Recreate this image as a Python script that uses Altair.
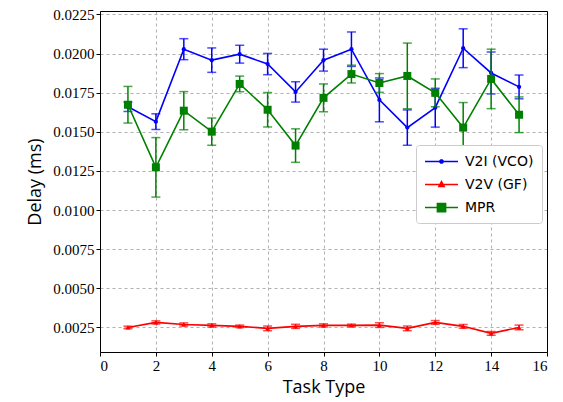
import altair as alt
import pandas as pd

tasks = list(range(1, 16))
series = ["V2I (VCO)", "V2V (GF)", "MPR"]
colors = ["#0000ff", "#ff0000", "#008000"]

v2i_mean = [0.01660, 0.01565, 0.02028, 0.01958, 0.01996, 0.01933, 0.01755, 0.01958,
            0.02028, 0.01704, 0.01527, 0.01654, 0.02034, 0.01876, 0.01787]
v2i_err = [0.00030, 0.00050, 0.00067, 0.00078, 0.00057, 0.00068, 0.00065, 0.00070,
           0.00110, 0.00140, 0.00113, 0.00124, 0.00124, 0.00134, 0.00076]
v2v_mean = [0.00250, 0.00282, 0.00269, 0.00263, 0.00257, 0.00244, 0.00257, 0.00263,
            0.00263, 0.00265, 0.00244, 0.00282, 0.00257, 0.00212, 0.00250]
v2v_err = [0.00008, 0.00010, 0.00010, 0.00010, 0.00008, 0.00015, 0.00013, 0.00010,
           0.00008, 0.00015, 0.00015, 0.00012, 0.00012, 0.00012, 0.00015]
mpr_mean = [0.01673, 0.01273, 0.01635, 0.01501, 0.01806, 0.01641, 0.01412, 0.01717,
            0.01869, 0.01812, 0.01857, 0.01749, 0.01527, 0.01838, 0.01609]
mpr_err = [0.00117, 0.00190, 0.00122, 0.00087, 0.00050, 0.00110, 0.00107, 0.00089,
           0.00057, 0.00060, 0.00210, 0.00089, 0.00160, 0.00190, 0.00114]

y_ticks = [0.0025, 0.0050, 0.0075, 0.0100, 0.0125, 0.0150, 0.0175, 0.0200, 0.0225]
x_ticks = [0, 2, 4, 6, 8, 10, 12, 14, 16]

rows = []
for name, m, e in [(series[0], v2i_mean, v2i_err), (series[1], v2v_mean, v2v_err),
                   (series[2], mpr_mean, mpr_err)]:
    for t, mv, ev in zip(tasks, m, e):
        rows.append({"Series": name, "Task": t, "Delay": mv, "lo": mv - ev, "hi": mv + ev})
df = pd.DataFrame(rows)

xs = alt.Scale(domain=[0, 16], nice=False, zero=False)
ys = alt.Scale(domain=[0.00093, 0.02272], nice=False, zero=False)

X = alt.X("Task:Q", scale=xs, title="Task Type",
          axis=alt.Axis(values=x_ticks, format="d"))
Y = alt.Y("Delay:Q", scale=ys, title="Delay (ms)",
          axis=alt.Axis(values=y_ticks, format=".4f"))

base = alt.Chart(df)

layers = []
shapes = ["circle", "triangle-up", "square"]
sizes = [18, 24, 64]
for name, col, shp, sz in zip(series, colors, shapes, sizes):
    sub = base.transform_filter(alt.datum.Series == name)
    rule = sub.mark_rule(strokeWidth=1.5, color=col).encode(
        x=X, y=alt.Y("lo:Q", scale=ys), y2="hi:Q")
    cap_lo = sub.mark_tick(orient="horizontal", size=9, thickness=1.5, color=col).encode(
        x=X, y=alt.Y("lo:Q", scale=ys))
    cap_hi = sub.mark_tick(orient="horizontal", size=9, thickness=1.5, color=col).encode(
        x=X, y=alt.Y("hi:Q", scale=ys))
    line = sub.mark_line(color=col, strokeWidth=1.6).encode(x=X, y=Y, order="Task:Q")
    pts = sub.mark_point(shape=shp, filled=True, size=sz, color=col, opacity=1).encode(x=X, y=Y)
    layers += [rule, cap_lo, cap_hi, line, pts]

# legend layer: custom line+marker symbols; its points sit outside the clipped view
leg_paths = [
    "M -1 0 L 3.4 0 M 1.0 -0.1 L 1.1 -0.2 L 1.3 -0.2 L 1.4 -0.1 L 1.4 0.1 L 1.3 0.2 L 1.1 0.2 L 1.0 0.1 Z",
    "M -1 0 L 3.4 0 M 1.2 -0.4 L 1.55 0.25 L 0.85 0.25 Z",
    "M -1 0 L 3.4 0 M 0.65 -0.55 L 1.75 -0.55 L 1.75 0.55 L 0.65 0.55 Z",
]
leg = alt.Legend(title=None, orient="none", legendX=316, legendY=134,
                 symbolSize=225, symbolStrokeWidth=1.5, symbolOpacity=1,
                 labelFont="DejaVu Sans", labelFontSize=14, labelColor="#000000",
                 labelFontWeight="normal",
                 labelOffset=24, rowPadding=7, padding=8,
                 strokeColor="#cccccc", fillColor="#ffffff", cornerRadius=3)
legend_layer = base.transform_filter(alt.datum.Task == 1).transform_calculate(
    lx="datum.Task - 30", Label="datum.Series").mark_point(clip=True, filled=True, opacity=1).encode(
    x=alt.X("lx:Q", scale=xs), y=Y,
    shape=alt.Shape("Label:N", scale=alt.Scale(domain=series, range=leg_paths), legend=leg),
    fill=alt.Fill("Label:N", scale=alt.Scale(domain=series, range=colors), legend=leg),
    stroke=alt.Stroke("Label:N", scale=alt.Scale(domain=series, range=colors), legend=leg),
)

main = alt.layer(*layers, legend_layer)

# top and right spines of the frame
frame = base.mark_point(opacity=0).encode(
    x=alt.X("Task:Q", scale=xs, axis=alt.Axis(orient="top", labels=False, ticks=False,
                                              grid=False, title=None)),
    y=alt.Y("Delay:Q", scale=ys, axis=alt.Axis(orient="right", labels=False, ticks=False,
                                               grid=False, title=None)),
)

chart = alt.layer(main, frame).resolve_axis(x="independent", y="independent").properties(
    width=447, height=341,
    autosize=alt.AutoSizeParams(type="none"),
    padding={"left": 100, "top": 11, "right": 16, "bottom": 50},
    background="white",
).configure_view(stroke=None).configure_axis(
    grid=True, gridDash=[3, 3], gridColor="#b0b0b0", gridWidth=1,
    domainColor="#000000", domainWidth=1, tickColor="#000000", tickSize=4,
    labelFont="Liberation Serif", labelFontSize=15, labelColor="#000000",
    titleFont="Open Sans", titleFontSize=18, titleFontWeight="normal", titleColor="#000000",
    labelPadding=2,
).configure_axisY(titlePadding=8).configure_axisX(titlePadding=5)

chart.save("out.html", embed_options={"renderer": "svg", "actions": False})
